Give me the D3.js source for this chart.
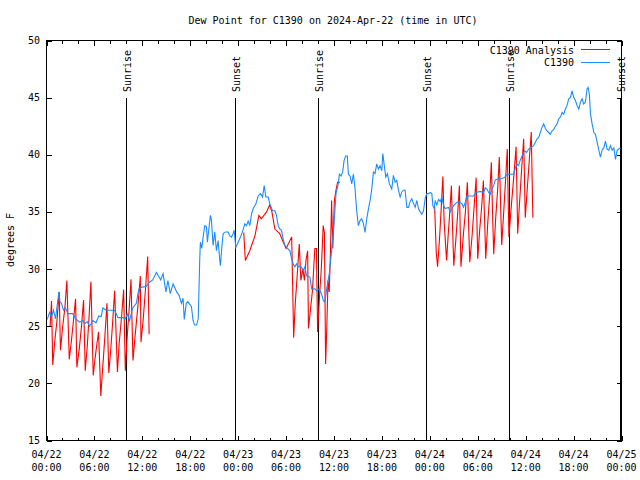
<!DOCTYPE html>
<html><head><meta charset="utf-8">
<script src="https://cdn.jsdelivr.net/npm/d3@7"></script>
<style>
body{margin:0;background:#fff}
svg{display:block}
text{font-family:"DejaVu Sans Mono","Liberation Mono",monospace;font-size:10px;fill:#000}
</style>
</head><body>
<svg id="c" width="640" height="480"></svg>
<script>
const chartTitle = "Dew Point for C1390 on 2024-Apr-22 (time in UTC)";
const yAxisTitle = "degrees F";
const yTicks = [15, 20, 25, 30, 35, 40, 45, 50];
const xMajorHours = [0, 6, 12, 18, 24, 30, 36, 42, 48, 54, 60, 66, 72];
const xTickDates = ["04/22","04/22","04/22","04/22","04/23","04/23","04/23","04/23","04/24","04/24","04/24","04/24","04/25"];
const xTickTimes = ["00:00","06:00","12:00","18:00","00:00","06:00","12:00","18:00","00:00","06:00","12:00","18:00","00:00"];
const xMinorHours = [2,4,8,10,14,16,20,22,26,28,32,34,38,40,44,46,50,52,56,58,62,64,68,70];
const sunHours = [10.0, 23.55, 34.03, 47.58, 57.97, 71.75];
const sunLabels = ["Sunrise","Sunset","Sunrise","Sunset","Sunrise","Sunset"];
const seriesNames = ["C1390 Analysis", "C1390"];

// C1390 observations (hours since 04/22 00:00 UTC, degrees F)
const blueHours = [0.1,0.38,0.63,0.88,1.13,1.55,1.7,1.88,2.13,2.38,2.68,3.3,3.64,4.14,4.56,4.77,5.1,5.4,5.8,6.2,6.55,6.85,7.06,7.5,8.53,8.95,9.58,9.9,10.1,10.4,10.8,11.25,11.54,11.87,12.5,12.9,13.3,13.76,14.1,14.3,14.6,14.95,15.2,15.5,15.85,16.3,16.6,16.9,17.1,17.25,17.5,17.7,18.15,18.35,18.55,18.8,19.0,
19.19,19.27,19.44,19.61,19.82,20.03,20.15,20.36,20.53,20.65,20.86,21.07,21.28,21.49,21.7,21.78,21.95,22.12,22.41,22.74,22.95,23.16,23.37,23.5,23.7,24.0,24.29,24.54,24.83,25.04,25.25,25.46,25.67,25.88,26.21,26.51,26.8,27.05,27.26,27.47,27.76,27.97,28.3,28.6,28.8,29.01,29.22,29.43,29.64,29.85,30.06,30.48,30.69,30.9,31.1,31.31,31.52,31.82,32.15,32.36,32.57,32.99,33.2,33.61,33.82,34.16,34.45,34.66,34.87,35.08,35.41,35.7,36.0,36.25,36.54,
36.67,36.88,37.09,37.26,37.46,37.67,37.8,38.01,38.22,38.43,38.64,38.84,39.05,39.26,39.47,39.68,39.89,40.1,40.31,40.52,40.73,40.94,41.14,41.35,41.56,41.77,41.98,42.11,42.27,42.48,42.69,42.94,43.23,43.44,43.65,43.86,44.07,44.28,44.49,44.7,44.91,45.12,45.33,45.53,45.74,45.95,46.16,46.37,46.58,46.79,47.0,47.21,47.42,47.62,47.83,48.04,48.25,48.38,48.54,48.67,48.88,49.09,49.3,49.51,49.72,49.93,50.34,50.55,50.76,50.97,51.18,51.39,51.8,52.02,52.22,52.44,52.65,53.07,53.48,53.81,54.3,54.73,54.94,55.15,55.36,55.57,55.78,55.99,56.2,56.62,57.04,57.25,57.45,57.66,58.08,58.5,58.7,58.92,59.1,59.33,59.55,59.75,59.9,60.1,60.38,60.59,61.0,61.21,61.43,61.63,61.84,62.05,62.26,62.47,62.67,62.88,63.09,63.3,63.51,63.72,63.93,64.14,64.35,64.56,64.76,64.97,65.18,65.39,65.6,65.81,66.02,66.23,66.44,66.65,66.86,67.06,67.27,67.48,67.69,67.82,67.98,68.11,68.32,68.53,68.74,68.95,69.16,69.36,69.57,69.78,69.99,70.2,70.41,70.62,70.83,71.04,71.25,71.45,71.66,71.87];
const blueValues = [25.6,26.2,25.85,26.4,25.65,28.0,27.1,27.0,26.4,26.6,26.1,26.1,25.65,25.35,25.5,25.2,25.4,25.0,25.5,25.3,25.9,25.85,26.6,26.4,26.4,25.75,25.75,25.65,26.1,25.5,26.6,27.0,28.2,28.4,28.5,28.85,29.05,29.7,29.3,29.05,29.6,28.0,29.0,27.85,28.7,28.0,27.7,27.0,27.45,25.6,27.0,27.15,26.7,25.5,25.1,25.1,25.65,
30.9,32.35,31.8,32.8,33.8,33.7,32.35,33.7,34.7,34.3,32.06,33.25,31.6,32.5,30.75,30.3,31.9,33.1,33.25,33.25,32.9,32.8,33.1,33.4,31.9,32.35,32.8,33.25,33.95,33.8,34.2,33.8,34.8,35.3,35.7,36.4,36.6,36.3,37.3,36.3,36.3,35.7,35.1,35.1,34.7,33.8,33.5,33.4,32.6,32.06,31.9,31.6,30.9,30.45,30.2,30.45,30.2,30.3,29.9,30.2,29.4,29.3,28.27,28.27,28.1,28.27,27.8,27.25,27.1,28.27,29.6,31.6,33.95,36.6,37.5,
38.3,38.15,38.5,39.5,39.9,39.9,38.3,38.15,37.45,38.3,37.0,35.1,33.8,34.25,34.4,34.0,33.2,34.4,35.27,36.0,37.0,38.5,38.35,39.2,38.75,39.05,38.6,40.1,39.2,38.05,38.35,37.45,37.0,38.2,37.6,37.75,36.9,36.3,36.75,36.9,36.9,35.4,35.4,35.9,36.15,35.75,35.4,36.0,35.3,35.0,34.8,35.1,36.2,36.6,36.6,36.7,36.6,35.55,35.3,36.0,35.6,36.1,35.9,36.3,35.55,35.3,35.4,35.0,35.3,35.55,35.7,35.85,35.85,35.7,35.4,35.85,36.4,36.4,36.4,36.7,36.8,36.7,37.1,37.0,36.7,36.55,37.0,37.3,37.8,37.9,37.9,38.0,38.05,38.3,38.3,38.3,38.8,39.2,39.05,39.55,39.9,40.2,40.35,40.2,40.5,40.6,40.8,41.1,41.4,41.5,41.97,42.4,42.7,42.3,42.1,41.95,41.8,42.1,42.2,42.5,42.7,43.14,43.3,43.7,43.55,44.0,44.3,44.9,45.0,45.6,45.0,44.75,44.3,44.0,44.6,44.9,44.45,44.6,45.77,45.9,45.3,43.6,42.7,41.97,41.8,41.1,40.4,39.8,40.4,40.6,41.2,40.5,40.4,40.8,40.4,40.6,39.6,40.4,40.5,40.6];

// C1390 Analysis (null = gap in the series)
const redHours = [0.45,0.63,0.78,1.05,1.3,1.59,1.75,2.0,2.3,2.55,2.85,3.1,3.35,3.64,3.8,4.1,4.38,4.64,4.85,5.1,5.32,5.56,5.85,6.05,6.3,6.52,6.8,7.05,7.3,7.57,7.8,8.05,8.3,8.53,8.88,9.1,9.4,9.66,9.87,10.1,10.35,10.58,10.83,11.1,11.45,11.75,11.83,12.1,12.4,12.67,12.85,
null,
24.7,24.9,25.45,26.1,26.6,26.9,27.55,27.95,28.2,28.6,29.2,29.65,30.0,30.7,30.95,31.15,31.4,31.65,31.85,32.1,32.3,32.5,32.7,32.8,33.0,33.3,33.6,33.8,33.95,34.2,34.4,34.65,34.8,34.95,35.1,35.25,35.4,35.55,35.7,35.85,36.05,36.25,36.45,36.75,
null,
48.6,48.8,48.97,49.2,49.4,49.63,49.8,50.1,50.3,50.5,50.7,50.85,51.0,51.25,51.5,51.7,51.8,51.9,52.2,52.45,52.7,52.85,53.0,53.3,53.55,53.8,53.9,54.0,54.25,54.5,54.7,54.85,55.0,55.25,55.5,55.7,55.85,56.0,56.25,56.5,56.7,56.85,57.0,57.25,57.5,57.7,57.8,57.9,58.2,58.5,58.8,58.9,59.0,59.25,59.5,59.75,59.85,59.95,60.2,60.45,60.7,60.9];
const redValues = [25.0,27.2,21.6,23.8,25.4,28.0,22.9,24.8,26.6,29.0,22.1,23.6,25.3,27.4,21.4,23.0,25.0,27.3,21.1,23.2,25.7,28.9,20.7,22.0,23.4,24.5,18.9,21.5,24.0,27.0,20.9,23.0,25.5,28.1,21.0,23.5,25.8,28.2,21.1,24.0,26.5,29.1,22.0,24.2,26.8,29.4,23.6,25.5,28.3,31.1,24.3,
null,
33.2,30.75,31.6,32.9,34.7,34.4,35.0,35.6,35.1,33.5,33.1,32.35,31.8,32.8,24.0,27.0,29.5,32.2,29.0,30.0,29.0,30.8,31.6,24.8,26.1,28.1,31.8,31.8,24.5,27.8,29.9,33.8,33.2,21.7,24.9,29.0,28.0,31.3,36.0,31.8,36.0,36.9,37.6,37.6,
null,
35.5,31.5,30.2,32.5,35.0,38.1,34.0,30.75,33.0,35.0,37.3,33.5,30.3,32.5,35.0,37.3,33.5,30.2,33.0,35.0,37.6,34.0,30.6,33.0,35.5,38.0,34.0,30.9,33.5,35.5,37.75,34.5,30.9,34.0,36.5,39.35,35.0,31.3,34.5,37.0,39.8,36.0,32.1,35.0,38.0,40.5,36.5,32.8,35.5,38.0,40.7,37.0,33.1,36.0,38.8,41.4,38.0,34.5,37.0,39.5,42.0,34.5];

const RED = "#ff0000", BLUE = "#1a8cff";
const L = 46.5, R = 621.5, T = 40.5, B = 440.5;
const svg = d3.select("#c");
const x = d3.scaleLinear().domain([0, 72]).range([L, R]);
const y = d3.scaleLinear().domain([15, 50]).range([B, T]);

function styleAxis(g){
  g.select(".domain").remove();
  g.selectAll(".tick line").attr("stroke", "#000").attr("shape-rendering", "crispEdges");
  g.selectAll(".tick text").remove();
}
// ticks (all inward)
svg.append("g").attr("transform", `translate(0,${B})`).call(d3.axisBottom(x).tickValues(xMajorHours).tickSize(-5)).call(styleAxis);
svg.append("g").attr("transform", `translate(0,${B})`).call(d3.axisBottom(x).tickValues(xMinorHours).tickSize(-3)).call(styleAxis);
svg.append("g").attr("transform", `translate(0,${T})`).call(d3.axisTop(x).tickValues(xMajorHours).tickSize(-5)).call(styleAxis);
svg.append("g").attr("transform", `translate(0,${T})`).call(d3.axisTop(x).tickValues(xMinorHours).tickSize(-3)).call(styleAxis);
svg.append("g").attr("transform", `translate(${L},0)`).call(d3.axisLeft(y).tickValues(yTicks).tickSize(-5)).call(styleAxis);
svg.append("g").attr("transform", `translate(${R},0)`).call(d3.axisRight(y).tickValues(yTicks).tickSize(-5)).call(styleAxis);

// tick labels
svg.append("g").selectAll("text").data(yTicks).join("text")
  .attr("x", 40).attr("y", d => y(d) + 3.5).attr("text-anchor", "end").text(d => d);
const xl = svg.append("g").selectAll("g").data(xMajorHours).join("g");
xl.append("text").attr("x", d => x(d)).attr("y", 457.5).attr("text-anchor", "middle").text((d, i) => xTickDates[i]);
xl.append("text").attr("x", d => x(d)).attr("y", 471).attr("text-anchor", "middle").text((d, i) => xTickTimes[i]);

// titles
svg.append("text").attr("x", 333).attr("y", 23.5).attr("text-anchor", "middle").text(chartTitle);
svg.append("text").attr("transform", "translate(14,240) rotate(-90)").attr("text-anchor", "middle").text(yAxisTitle);

// sunrise / sunset markers
const sun = svg.append("g").selectAll("g").data(sunHours).join("g");
sun.append("line").attr("x1", d => Math.round(x(d)) + 0.5).attr("x2", d => Math.round(x(d)) + 0.5)
  .attr("y1", 98).attr("y2", B).attr("stroke", "#000").attr("shape-rendering", "crispEdges");
sun.append("text").attr("transform", d => `translate(${Math.round(x(d)) + 4.5},92) rotate(-90)`)
  .attr("text-anchor", "start").text((d, i) => sunLabels[i]);

// data lines
const redData = redHours.map((h, i) => ({h, v: redValues[i]}));
const blueData = blueHours.map((h, i) => ({h, v: blueValues[i]}));
const line = d3.line().defined(d => d.h != null && d.v != null).x(d => x(d.h)).y(d => y(d.v));
svg.append("path").datum(redData).attr("d", line).attr("fill", "none").attr("stroke", RED).attr("stroke-width", 1.1);
svg.append("path").datum(blueData).attr("d", line).attr("fill", "none").attr("stroke", BLUE).attr("stroke-width", 1.1);

// legend
const legColors = [RED, BLUE];
const leg = svg.append("g").selectAll("g").data(seriesNames).join("g");
leg.append("text").attr("x", 574).attr("y", (d, i) => 53.5 + i * 12.5).attr("text-anchor", "end").text(d => d);
leg.append("line").attr("x1", 581).attr("x2", 610).attr("y1", (d, i) => 49.5 + i * 12.5).attr("y2", (d, i) => 49.5 + i * 12.5)
  .attr("stroke", (d, i) => legColors[i]).attr("shape-rendering", "crispEdges");

// frame
svg.append("rect").attr("x", L).attr("y", T).attr("width", R - L).attr("height", B - T)
  .attr("fill", "none").attr("stroke", "#000").attr("shape-rendering", "crispEdges");
</script>
</body></html>
